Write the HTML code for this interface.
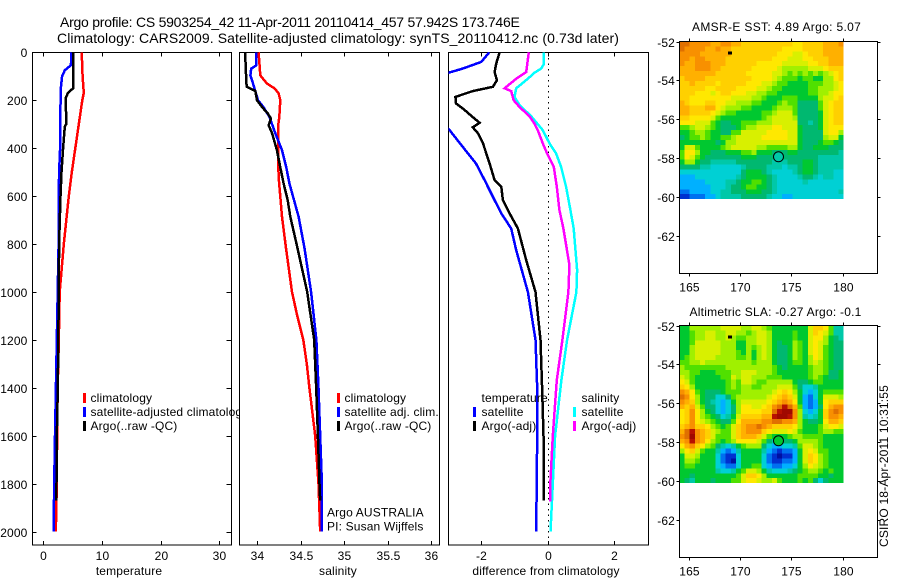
<!DOCTYPE html>
<html lang="en">
<head>
<meta charset="utf-8">
<title>Argo profile CS 5903254_42</title>
<style>
html,body{margin:0;padding:0;background:#fff;}
svg{display:block;}
text{font-family:"Liberation Sans",sans-serif;font-size:12px;fill:#000;letter-spacing:0.15px;}
</style>
</head>
<body>
<svg id="chart" xmlns="http://www.w3.org/2000/svg" width="900" height="580" viewBox="0 0 900 580">
  <rect x="0" y="0" width="900" height="580" fill="#fff"/>
  <text x="60" y="27" textLength="460" lengthAdjust="spacing" style="font-size:14px">Argo profile: CS 5903254_42 11-Apr-2011 20110414_457 57.942S 173.746E</text>
  <text x="57" y="43" textLength="562" lengthAdjust="spacing" style="font-size:14px">Climatology: CARS2009. Satellite-adjusted climatology: synTS_20110412.nc (0.73d later)</text>
  <defs>
    <clipPath id="diff-clip"><rect x="448.5" y="52" width="200" height="493"/></clipPath>
  </defs>
</svg>
<script>
// ---------- profile data: depth (m) and value pairs ----------
const depthTicks = [0,200,400,600,800,1000,1200,1400,1600,1800,2000];
const tempTicks = [0,10,20,30];
const salTicks = [34,34.5,35,35.5,36];
const salTickLabels = ['34','34.5','35','35.5','36'];
const diffTicks = [-2,0,2];
const lonTicks = [165,170,175,180];
const latTicks = [-52,-54,-56,-58,-60,-62];

const tempClimDepth = [0,100,170,200,300,400,500,600,800,1000,1200,1400,1600,1800,2000];
const tempClimValues = [6.55,6.7,6.9,6.65,6.05,5.45,4.85,4.35,3.5,2.8,2.65,2.45,2.35,2.3,2.13];
const tempSatDepth = [0,54,75,100,150,200,300,400,500,600,800,1000,1400,1600,1800,2000];
const tempSatValues = [4.8,4.7,3.66,3.2,2.98,2.95,2.87,2.87,2.7,2.65,2.6,2.45,2.15,2.0,1.85,1.75];
const tempArgoDepth = [0,150,170,190,300,310,400,500,600,800,1000,1400,1600,1800,1870];
const tempArgoValues = [5.08,5.08,4.2,3.83,3.9,3.66,3.38,3.1,2.93,2.7,2.65,2.47,2.3,2.25,2.22];

const salClimDepth = [0,96,103,130,151,171,200,270,311,394,519,686,817,1000,1100,1200,1300,1400,1600,1800,2000];
const salClimValues = [34.015,34.035,34.05,34.11,34.2,34.245,34.265,34.253,34.238,34.238,34.245,34.284,34.33,34.4,34.46,34.53,34.57,34.6,34.667,34.705,34.724];
const salSatDepth = [0,55,68,96,130,200,228,270,338,408,478,547,686,817,1000,1200,1400,1600,1800,2000];
const salSatValues = [33.985,33.985,33.93,33.92,33.95,34.008,34.07,34.14,34.207,34.284,34.333,34.37,34.475,34.544,34.62,34.68,34.705,34.724,34.744,34.744];
const salArgoDepth = [0,130,144,161,200,228,255,276,304,338,408,478,547,617,686,817,1000,1200,1400,1600,1800,1870];
const salArgoValues = [33.86,33.874,33.88,33.977,33.997,34.054,34.12,34.157,34.13,34.17,34.226,34.264,34.303,34.35,34.38,34.463,34.575,34.655,34.678,34.698,34.716,34.724];

const diffTempSatDepth = [0,40,68,85,100,300,320,380,464,533,603,672,735,825,1000,1200,1400,1600,2000];
const diffTempSatValues = [-1.76,-2.0,-2.56,-2.98,-3.5,-3.5,-2.98,-2.64,-2.16,-1.9,-1.65,-1.4,-1.1,-0.95,-0.6,-0.37,-0.32,-0.32,-0.35];
const diffTempArgoDepth = [0,46,82,117,144,162,186,213,234,270,294,313,338,380,464,533,561,617,672,735,867,1000,1200,1400,1600,1870];
const diffTempArgoValues = [-1.45,-1.55,-1.6,-1.53,-1.65,-2.26,-2.78,-2.76,-2.56,-2.26,-2.05,-2.26,-2.1,-1.95,-1.75,-1.6,-1.4,-1.35,-1.15,-0.9,-0.65,-0.37,-0.22,-0.17,-0.13,-0.13];
const diffSalArgoDepth = [0,82,110,150,162,200,228,267,298,325,380,422,478,561,658,735,887,1000,1200,1367,1600,1783,1874];
const diffSalArgoValues = [-0.57,-0.65,-0.95,-1.3,-1.1,-1.03,-0.85,-0.55,-0.4,-0.3,-0.15,-0.02,0.18,0.27,0.35,0.47,0.65,0.62,0.44,0.27,0.15,0.08,0.07];
const diffSalSatDepth = [0,50,68,85,110,150,186,220,267,325,380,422,478,561,658,735,908,1000,1200,1367,1600,1800,2000];
const diffSalSatValues = [-0.12,-0.12,-0.2,-0.4,-0.6,-0.95,-1.0,-0.85,-0.5,-0.15,0.05,0.25,0.4,0.55,0.68,0.78,0.88,0.86,0.58,0.41,0.22,0.15,0.08];

// ---------- map data: colour level per 0.5 deg x 0.25 deg cell ----------
const sstGrid = [
[14,14,13,13,13,13,12,12,13,13,12,12,11,11,11,11,11,11,11,11,11,11,10,10,11,11,11,11,12,12,12,13],
[14,13,13,13,13,12,12,13,12,12,11,11,11,11,11,11,11,11,11,11,10,10,10,10,11,11,11,11,12,12,12,12],
[13,13,13,13,12,12,12,12,12,12,11,11,11,11,11,11,11,11,11,10,10,10,9,9,10,11,11,11,12,12,12,12],
[13,13,12,13,13,12,12,12,12,11,11,11,11,11,11,11,11,11,10,10,10,9,9,9,10,10,11,11,11,12,12,12],
[13,12,12,13,13,13,12,12,12,11,11,11,11,11,11,10,10,10,10,10,9,9,9,9,9,10,10,11,11,12,12,12],
[12,12,12,13,13,13,12,12,11,11,11,11,11,11,10,10,10,10,10,9,8,8,8,8,8,9,9,9,10,11,11,11],
[12,12,12,12,12,12,12,11,11,11,11,11,11,10,10,10,10,10,9,9,8,7,8,7,8,7,8,7,8,9,10,11],
[11,12,12,12,12,11,11,11,11,11,11,11,11,11,10,10,10,10,9,8,7,7,7,6,7,7,6,6,8,8,10,11],
[11,11,12,11,11,11,11,10,11,11,11,11,11,10,10,10,9,9,8,7,7,6,6,6,6,7,7,7,8,8,9,10],
[11,11,11,11,11,10,10,11,11,11,11,10,10,10,10,9,9,8,7,7,6,6,6,6,6,7,7,8,8,8,9,10],
[11,11,11,10,10,10,9,10,11,11,10,10,10,9,9,8,8,7,7,6,6,6,6,6,6,7,7,8,8,9,10,10],
[11,11,10,10,10,10,10,10,10,10,9,9,9,9,8,8,7,6,6,6,7,7,7,6,6,6,6,8,9,9,10,11],
[12,11,10,10,10,11,11,10,10,9,9,8,8,8,7,7,6,6,6,7,8,7,7,5,5,5,5,7,9,10,11,11],
[12,12,11,11,11,12,12,10,9,8,8,8,7,7,6,6,6,6,7,8,8,8,7,5,5,5,5,7,9,10,11,11],
[12,12,11,11,11,11,10,9,8,7,7,6,6,6,6,6,7,7,8,9,9,9,7,5,5,5,5,6,9,10,11,11],
[11,11,10,10,10,10,9,7,6,6,6,6,6,6,6,6,7,8,9,9,9,9,8,5,5,5,5,6,9,10,11,11],
[10,10,10,9,9,9,7,6,5,5,6,6,7,7,7,8,8,8,9,9,9,9,9,5,5,4,5,6,9,10,11,11],
[7,7,8,9,9,8,7,6,5,5,5,6,7,8,8,9,9,9,10,10,9,9,9,6,5,5,5,6,9,10,10,10],
[6,6,7,8,8,7,6,6,5,5,7,7,9,9,9,9,9,10,10,10,10,9,9,6,5,5,5,5,9,10,10,8],
[5,6,7,7,8,7,6,6,7,7,8,9,9,9,9,9,10,10,10,10,10,9,9,6,5,5,5,5,8,9,9,6],
[6,6,6,6,6,6,6,5,6,8,8,9,9,9,9,9,9,9,9,9,9,9,9,6,5,5,5,6,7,7,6,5],
[6,9,9,7,6,6,6,6,7,8,9,9,9,9,9,8,8,7,7,7,7,8,8,6,5,5,6,6,6,5,5,5],
[7,10,10,8,6,6,5,5,5,6,6,6,7,7,8,6,6,6,5,5,5,6,6,5,5,5,5,5,5,5,5,4],
[7,10,9,7,6,5,5,5,5,5,5,5,6,6,6,5,5,5,5,5,5,5,5,5,5,5,5,4,4,4,4,4],
[6,8,8,6,5,5,4,4,4,4,4,5,5,5,5,5,5,5,4,4,4,5,5,5,6,6,5,4,4,4,4,4],
[5,5,5,5,4,4,3,3,3,3,3,3,4,5,5,5,5,4,4,4,3,4,4,5,6,6,5,4,4,4,4,4],
[3,3,3,3,3,3,3,3,3,3,3,3,5,6,6,6,5,4,3,3,3,3,4,5,6,6,5,4,4,4,3,3],
[2,2,2,3,3,3,3,3,3,3,3,4,5,6,6,6,6,5,4,3,3,3,3,4,5,5,4,3,4,4,3,3],
[2,2,2,2,2,3,3,3,3,4,4,5,6,6,7,7,6,5,4,3,3,3,3,3,4,3,3,3,3,3,3,3],
[2,2,2,2,2,2,3,3,3,4,5,5,6,7,7,6,6,5,4,3,3,3,3,3,3,3,3,3,3,3,3,3],
[1,1,2,2,2,2,3,3,4,4,5,5,5,6,6,6,5,5,4,3,3,3,3,3,3,3,3,3,3,3,3,4],
[0,0,1,1,1,2,2,3,4,4,4,4,5,5,5,5,5,4,3,3,2,2,3,3,3,3,3,3,3,3,3,3]
];
const slaGrid = [
[6,6,8,8,8,8,8,8,9,9,9,9,8,8,9,9,8,7,6,6,6,6,6,6,6,9,11,11,10,7,4,4],
[6,6,7,8,8,9,9,8,8,9,9,8,8,7,8,9,9,8,6,6,6,6,7,6,6,9,11,10,9,7,4,4],
[6,6,7,8,8,9,9,8,8,9,8,7,7,8,8,9,9,8,6,6,6,6,7,6,6,9,10,10,8,6,5,4],
[6,6,7,9,9,9,9,9,8,8,8,6,6,8,8,9,9,8,6,5,6,6,8,7,6,9,10,9,8,6,5,5],
[6,6,8,9,9,9,9,9,8,8,8,6,6,8,7,8,9,8,6,5,5,6,8,7,6,9,10,9,7,6,5,5],
[6,6,8,9,9,9,9,9,8,8,8,7,6,8,6,8,9,8,6,5,5,6,8,7,6,9,10,9,7,6,5,5],
[6,7,8,9,9,9,9,8,8,8,8,7,7,8,6,8,9,8,6,5,5,6,8,7,6,8,10,9,7,6,5,5],
[7,7,8,8,9,8,8,8,8,8,8,8,8,8,7,8,8,8,6,5,5,6,7,7,6,8,9,8,7,6,5,5],
[8,7,7,7,7,7,7,7,7,8,8,8,8,8,8,8,8,8,7,6,5,6,6,6,6,7,8,8,7,6,5,5],
[8,8,7,7,6,6,6,7,7,7,8,8,9,9,9,8,8,8,7,6,6,6,6,6,6,7,8,8,7,5,5,6],
[9,8,7,6,6,6,6,6,7,7,9,8,9,9,8,8,8,7,7,7,6,6,6,6,6,7,8,7,6,5,5,6],
[10,9,7,6,6,6,6,6,6,7,8,7,9,9,8,7,7,8,8,8,8,8,6,5,5,6,7,7,6,6,6,6],
[11,10,8,6,6,6,6,6,6,7,8,7,8,8,7,7,8,8,8,9,9,9,7,5,3,3,4,6,6,6,6,6],
[13,12,10,7,6,5,5,5,6,7,7,7,8,8,8,8,8,8,9,10,11,10,8,6,3,2,3,6,7,7,7,7],
[14,13,10,8,6,5,5,3,3,5,7,8,8,8,8,8,8,9,10,11,12,11,9,6,2,1,3,6,9,9,9,8],
[13,12,11,8,6,5,4,3,2,3,6,8,9,9,9,9,9,10,11,12,13,12,10,6,2,1,2,6,10,11,11,11],
[12,11,12,9,7,5,5,3,2,3,5,8,10,10,9,9,10,11,13,14,15,14,12,7,2,1,2,5,10,12,13,13],
[10,11,13,10,8,6,5,3,2,3,5,8,10,10,10,10,11,11,14,15,16,16,13,8,3,2,3,6,11,13,14,13],
[10,11,13,10,8,7,6,5,3,4,6,9,11,11,11,11,12,12,15,16,16,15,13,8,4,3,4,6,11,13,13,12],
[10,11,13,10,9,8,7,6,5,5,7,10,12,12,12,12,13,13,14,14,13,13,12,8,6,5,5,6,10,12,12,11],
[11,12,13,11,11,10,8,7,6,7,9,11,12,13,13,14,13,12,11,11,11,11,10,8,6,6,6,7,9,10,10,9],
[12,14,15,13,12,11,9,8,7,7,9,11,12,13,13,13,11,10,9,9,9,10,9,7,6,6,6,7,8,8,7,7],
[13,14,16,13,12,11,9,7,7,7,9,11,12,12,12,11,9,7,6,6,6,7,8,8,7,7,7,7,6,6,6,6],
[12,13,15,13,12,10,8,7,6,7,8,10,10,10,10,9,7,5,4,4,5,5,6,8,8,8,8,7,6,6,6,6],
[10,12,13,11,10,8,7,5,4,3,4,6,7,8,8,8,5,3,2,2,3,3,4,7,9,9,8,7,6,6,6,6],
[8,10,11,9,7,6,6,4,2,1,2,4,6,6,6,6,4,2,1,0,1,1,2,6,9,10,9,7,7,6,6,6],
[6,9,9,8,6,6,6,3,1,0,0,3,6,6,6,6,3,1,0,-1,0,0,2,6,9,11,10,8,7,6,6,6],
[6,8,8,7,6,6,6,3,1,0,-1,3,6,6,6,6,3,1,0,0,1,1,2,6,9,11,10,8,7,6,6,6],
[6,7,7,6,6,6,6,3,2,1,1,3,6,6,7,7,3,2,1,1,2,2,3,6,8,10,9,8,7,6,6,6],
[6,6,6,6,6,6,6,4,3,3,4,6,7,9,9,8,6,4,3,3,3,4,5,6,7,8,8,7,6,7,6,6],
[6,6,5,6,6,6,6,6,6,6,6,7,9,11,11,10,8,6,6,6,6,6,6,7,7,7,7,6,6,5,6,6],
[6,5,4,6,6,6,5,6,6,6,7,7,9,10,10,9,8,8,9,7,6,6,6,7,6,7,5,3,5,6,6,6]
];
const argoLon = [173.746];
const argoLat = [-57.942];
const coastLon = [169.0];
const coastLat = [-52.6];
const sstArgoLevel = [4];
const slaArgoLevel = [6];

// ---------- rendering ----------
const NS = 'http://www.w3.org/2000/svg';
const svg = document.getElementById('chart');
const colorStops = ['#0010a0','#0030d0','#0070f0','#00b0ff','#00d0d4','#00c8a8','#00b870','#00c830','#50e000','#a0f000','#d8f000','#ffe800','#ffd000','#ffb000','#f89000','#e07000','#b81000','#a00800'];

function el(tag, attrs, parent) {
  const e = document.createElementNS(NS, tag);
  for (const k in attrs) e.setAttribute(k, attrs[k]);
  (parent || svg).appendChild(e);
  return e;
}
function linear(d0, p0, d1, p1) {
  return v => p0 + (v - d0) * (p1 - p0) / (d1 - d0);
}
const axisTop = 52.5, axisBottom = 545;
const depthY = linear(0, 52.3, 2000, 531.7);
const tempX = linear(0, 43.3, 30, 219.3);
const salX = linear(34, 257.3, 36, 431);
const diffX = linear(-2, 481.3, 2, 614.3);

function drawBox(left, right, top, bottom, name) {
  const r = el('rect', {x:left, y:top, width:right-left, height:bottom-top, fill:'#fff', stroke:'#000', 'stroke-width':1, 'shape-rendering':'crispEdges'});
  
  
}
function tickLine(x1, y1, x2, y2, name) {
  const l = el('line', {x1:x1, y1:y1, x2:x2, y2:y2, stroke:'#000', 'stroke-width':1, 'shape-rendering':'crispEdges'});
  
  
}
function label(x, y, str, anchor, name) {
  const t = el('text', {x:x, y:y, 'text-anchor':anchor});
  t.textContent = str;
  
  
  return t;
}
function drawProfile(depths, values, xScale, color, name, parent) {
  const pts = depths.map((d, i) => xScale(values[i]).toFixed(1) + ',' + depthY(d).toFixed(1)).join(' ');
  const p = el('polyline', {points:pts, fill:'none', stroke:color, 'stroke-width':2.5, 'stroke-linejoin':'miter', 'shape-rendering':'crispEdges'}, parent);
  
  
}
function legendMark(x, y, color, name) {
  const r = el('rect', {x:x-1, y:y-9, width:3, height:10, fill:color, 'shape-rendering':'crispEdges'});
  
  
}
function xAxisTicks(ticks, labels, xScale, prefix) {
  ticks.forEach((v, i) => {
    const x = Math.round(xScale(v)) + 0.5;
    tickLine(x, axisTop, x, axisTop + 4, prefix + '-top-tick');
    tickLine(x, axisBottom, x, axisBottom - 4, prefix + '-bottom-tick');
    label(x, 560, labels[i], 'middle', prefix + '-tick-label');
  });
}

// Panel 1: temperature
drawBox(32.5, 231.5, axisTop, axisBottom, 'temperature-panel');
depthTicks.forEach(d => {
  const y = Math.round(depthY(d)) + 0.5;
  tickLine(32.5, y, 36.5, y, 'depth-left-tick');
  tickLine(231.5, y, 226.5, y, 'depth-right-tick');
  label(27.5, y + 4.5, String(d), 'end', 'depth-tick-label');
});
xAxisTicks(tempTicks, tempTicks.map(String), tempX, 'temperature');
drawProfile(tempClimDepth, tempClimValues, tempX, '#ff0000', 'temperature-climatology-line');
drawProfile(tempSatDepth, tempSatValues, tempX, '#0000ff', 'temperature-satellite-line');
drawProfile(tempArgoDepth, tempArgoValues, tempX, '#000000', 'temperature-argo-line');
label(129, 575, 'temperature', 'middle', 'temperature-axis-title');
legendMark(84, 402, '#ff0000', 'temperature-legend-climatology-mark');
legendMark(84, 416, '#0000ff', 'temperature-legend-satellite-mark');
legendMark(84, 430, '#000000', 'temperature-legend-argo-mark');
label(90.5, 402, 'climatology', 'start', 'temperature-legend-climatology');
label(90.5, 416, 'satellite-adjusted climatology', 'start', 'temperature-legend-satellite');
label(90.5, 430, 'Argo(..raw -QC)', 'start', 'temperature-legend-argo');

// Panel 2: salinity (its white face hides the overrun of the legend text)
drawBox(239.5, 439.5, axisTop, axisBottom, 'salinity-panel');
xAxisTicks(salTicks, salTickLabels, salX, 'salinity');
drawProfile(salClimDepth, salClimValues, salX, '#ff0000', 'salinity-climatology-line');
drawProfile(salSatDepth, salSatValues, salX, '#0000ff', 'salinity-satellite-line');
drawProfile(salArgoDepth, salArgoValues, salX, '#000000', 'salinity-argo-line');
label(338, 575, 'salinity', 'middle', 'salinity-axis-title');
legendMark(338, 402, '#ff0000', 'salinity-legend-climatology-mark');
legendMark(338, 416, '#0000ff', 'salinity-legend-satellite-mark');
legendMark(338, 430, '#000000', 'salinity-legend-argo-mark');
label(344.5, 402, 'climatology', 'start', 'salinity-legend-climatology');
label(344.5, 416, 'satellite adj. clim.', 'start', 'salinity-legend-satellite');
label(344.5, 430, 'Argo(..raw -QC)', 'start', 'salinity-legend-argo');
label(327, 516.5, 'Argo AUSTRALIA', 'start', 'program-label');
label(327, 530.5, 'PI: Susan Wijffels', 'start', 'investigator-label');

// Panel 3: differences
drawBox(448.5, 648.5, axisTop, axisBottom, 'difference-panel');
xAxisTicks(diffTicks, diffTicks.map(String), diffX, 'difference');
const diffGroup = el('g', {'clip-path':'url(#diff-clip)'});


const zeroLine = el('line', {x1:Math.round(diffX(0))+0.5, y1:axisTop, x2:Math.round(diffX(0))+0.5, y2:axisBottom, stroke:'#000', 'stroke-width':1, 'stroke-dasharray':'1.5 4', 'shape-rendering':'crispEdges'}, diffGroup);


drawProfile(diffTempSatDepth, diffTempSatValues, diffX, '#0000ff', 'difference-temperature-satellite-line', diffGroup);
drawProfile(diffTempArgoDepth, diffTempArgoValues, diffX, '#000000', 'difference-temperature-argo-line', diffGroup);
drawProfile(diffSalSatDepth, diffSalSatValues, diffX, '#00ffff', 'difference-salinity-satellite-line', diffGroup);
drawProfile(diffSalArgoDepth, diffSalArgoValues, diffX, '#ff00ff', 'difference-salinity-argo-line', diffGroup);
label(546, 575, 'difference from climatology', 'middle', 'difference-axis-title');
label(481.5, 402, 'temperature', 'start', 'difference-legend-temperature-heading');
legendMark(474, 416, '#0000ff', 'difference-legend-temperature-satellite-mark');
legendMark(474, 430, '#000000', 'difference-legend-temperature-argo-mark');
label(481.5, 416, 'satellite', 'start', 'difference-legend-temperature-satellite');
label(481.5, 430, 'Argo(-adj)', 'start', 'difference-legend-temperature-argo');
label(581.5, 402, 'salinity', 'start', 'difference-legend-salinity-heading');
legendMark(574, 416, '#00ffff', 'difference-legend-salinity-satellite-mark');
legendMark(574, 430, '#ff00ff', 'difference-legend-salinity-argo-mark');
label(581.5, 416, 'satellite', 'start', 'difference-legend-salinity-satellite');
label(581.5, 430, 'Argo(-adj)', 'start', 'difference-legend-salinity-argo');

// Maps
const lonStep = 0.5, latStep = 0.2539, lonStart = 164.1, latStart = -52;
const lonX = linear(165, 688.7, 180, 842.7);
function drawMap(grid, top, prefix, argoLevel) {
  const latY = linear(-52, top, -60, top + 155.2);
  const bottom = top + 232;
  drawBox(679.5, 877.5, top, bottom, prefix + '-map-frame');
  grid.forEach((row, r) => {
    row.forEach((v, c) => {
      const x0 = lonX(lonStart + c * lonStep), x1 = lonX(lonStart + (c + 1) * lonStep);
      const y0 = latY(latStart - r * latStep), y1 = latY(latStart - (r + 1) * latStep);
      const cell = el('rect', {x:x0.toFixed(2), y:y0.toFixed(2), width:(x1 - x0).toFixed(2), height:(y1 - y0).toFixed(2), fill:colorStops[Math.max(0, Math.min(colorStops.length - 1, v + 1))], 'shape-rendering':'crispEdges'});
      
      
    });
  });
  const topLine = el('line', {x1:679.5, y1:top, x2:877.5, y2:top, stroke:'#000', 'stroke-width':1, 'shape-rendering':'crispEdges'});
  
  
  const leftLine = el('line', {x1:679.5, y1:top, x2:679.5, y2:bottom, stroke:'#000', 'stroke-width':1, 'shape-rendering':'crispEdges'});
  
  
  lonTicks.forEach(lon => {
    const x = Math.round(lonX(lon)) + 0.5;
    tickLine(x, top, x, top - 3, prefix + '-longitude-top-tick');
    tickLine(x, bottom, x, bottom + 3, prefix + '-longitude-bottom-tick');
    label(x, bottom + 18, String(lon), 'middle', prefix + '-longitude-tick-label');
  });
  latTicks.forEach(lat => {
    const y = Math.round(latY(lat)) + 0.5;
    tickLine(679.5, y, 676.5, y, prefix + '-latitude-left-tick');
    tickLine(877.5, y, 880.5, y, prefix + '-latitude-right-tick');
    label(675, y + 4.5, String(lat), 'end', prefix + '-latitude-tick-label');
  });
  const coast = el('rect', {x:lonX(coastLon[0]) - 2, y:latY(coastLat[0]) - 1.5, width:4, height:3, fill:'#000', 'shape-rendering':'crispEdges'});
  
  
  const ring = el('circle', {cx:lonX(argoLon[0]), cy:latY(argoLat[0]), r:5, fill:colorStops[argoLevel + 1], stroke:'#000', 'stroke-width':1});
  
  
}
drawMap(sstGrid, 41.5, 'sst', sstArgoLevel[0]);
drawMap(slaGrid, 325.5, 'sla', slaArgoLevel[0]);

const sstTitle = label(692, 31, 'AMSR-E SST: 4.89 Argo: 5.07', 'start', 'sst-map-title');
sstTitle.setAttribute('textLength', '169');
const slaTitle = label(689.5, 316, 'Altimetric SLA: -0.27 Argo: -0.1', 'start', 'sla-map-title');
slaTitle.setAttribute('textLength', '172');

const stamp = el('text', {x:0, y:0, transform:'translate(888 547) rotate(-90)'});
stamp.textContent = 'CSIRO 18-Apr-2011 10:31:55';
stamp.setAttribute('textLength', '162');


</script>
</body>
</html>
